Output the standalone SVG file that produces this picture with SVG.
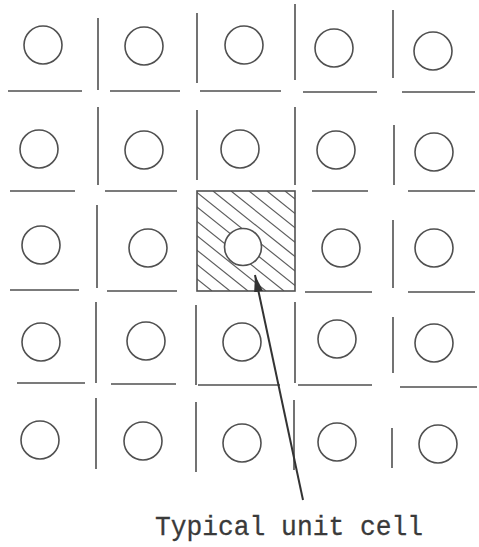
<svg xmlns="http://www.w3.org/2000/svg" width="479" height="547" viewBox="0 0 479 547">
<style>
.c{fill:#fff;stroke:#505050;stroke-width:1.6}
.g{stroke:#505050;stroke-width:1.6;fill:none}
.h{stroke:#606060;stroke-width:1.2;fill:none}
.t{font-family:"Liberation Mono","Courier New",monospace;font-size:28px;fill:#3a3a3a;stroke:#3a3a3a;stroke-width:0.3}
</style>
<defs>
<clipPath id="hc"><rect x="197" y="191" width="98" height="100"/></clipPath>
<marker id="ah" viewBox="0 0 17 9" markerWidth="17" markerHeight="9" refX="17" refY="4.5" orient="auto" markerUnits="userSpaceOnUse">
<path d="M0,0 L17,4.5 L0,9 z" fill="#333"/>
</marker>
</defs>
<rect width="479" height="547" fill="#fff"/>
<g id="grid" class="g">
<path d="M98 18V90M197 13V83M295 4V80M393 10V78"/>
<path d="M8 91H82M110 91H180M200 91H281M303 92H377M402 92H475"/>
<path d="M98 107V185M197 110V180M295 107V185M394 125V185"/>
<path d="M10 191H75M105 191H177M312 191H368M408 191H475"/>
<path d="M97 205V288M393 220V288"/>
<path d="M10 290H79M107 291H177M305 292H372M408 292H475"/>
<path d="M96 302V383M196 305V385M295 302V383M393 317V373"/>
<path d="M17 383H85M111 384H176M198 385H280M298 385H372M400 387H477"/>
<path d="M96 398V469M196 402V472M294 400V470M392 428V468"/>
</g>
<g id="unit-cell">
<g clip-path="url(#hc)" class="h">
<path d="M69 191l125 100M87 191l125 100M105 191l125 100M123 191l125 100M141 191l125 100M159 191l125 100M177 191l125 100M195 191l125 100M213 191l125 100M231 191l125 100M249 191l125 100M267 191l125 100M285 191l125 100"/>
</g>
<rect x="197" y="191" width="98" height="100" class="g"/>
<circle class="c" cx="243" cy="247" r="18.5"/>
</g>
<g id="row1">
<circle id="c11" class="c" cx="43" cy="45" r="19"/>
<circle id="c12" class="c" cx="144" cy="46" r="19"/>
<circle id="c13" class="c" cx="244" cy="45" r="19"/>
<circle id="c14" class="c" cx="334" cy="48" r="19"/>
<circle id="c15" class="c" cx="433" cy="51" r="19"/>
</g>
<g id="row2">
<circle id="c21" class="c" cx="39" cy="149" r="19"/>
<circle id="c22" class="c" cx="144" cy="150" r="19"/>
<circle id="c23" class="c" cx="240" cy="149" r="19"/>
<circle id="c24" class="c" cx="336" cy="150" r="19"/>
<circle id="c25" class="c" cx="434" cy="152" r="19"/>
</g>
<g id="row3">
<circle id="c31" class="c" cx="41" cy="245" r="19"/>
<circle id="c32" class="c" cx="148" cy="248" r="19"/>
<circle id="c34" class="c" cx="341" cy="248" r="19"/>
<circle id="c35" class="c" cx="434" cy="248" r="19"/>
</g>
<g id="row4">
<circle id="c41" class="c" cx="41" cy="342" r="19"/>
<circle id="c42" class="c" cx="146" cy="341" r="19"/>
<circle id="c43" class="c" cx="242" cy="342" r="19"/>
<circle id="c44" class="c" cx="337" cy="339" r="19"/>
<circle id="c45" class="c" cx="434" cy="343" r="19"/>
</g>
<g id="row5">
<circle id="c51" class="c" cx="40" cy="440" r="19"/>
<circle id="c52" class="c" cx="143" cy="441" r="19"/>
<circle id="c53" class="c" cx="242" cy="443" r="19"/>
<circle id="c54" class="c" cx="337" cy="442" r="19"/>
<circle id="c55" class="c" cx="438" cy="444" r="19"/>
</g>
<g id="connectors">
<line x1="303" y1="500" x2="255" y2="275" stroke="#333" stroke-width="2" marker-end="url(#ah)"/>
</g>
<g id="label">
<text class="t" x="155" y="535" textLength="268" lengthAdjust="spacingAndGlyphs">Typical unit cell</text>
</g>
</svg>
